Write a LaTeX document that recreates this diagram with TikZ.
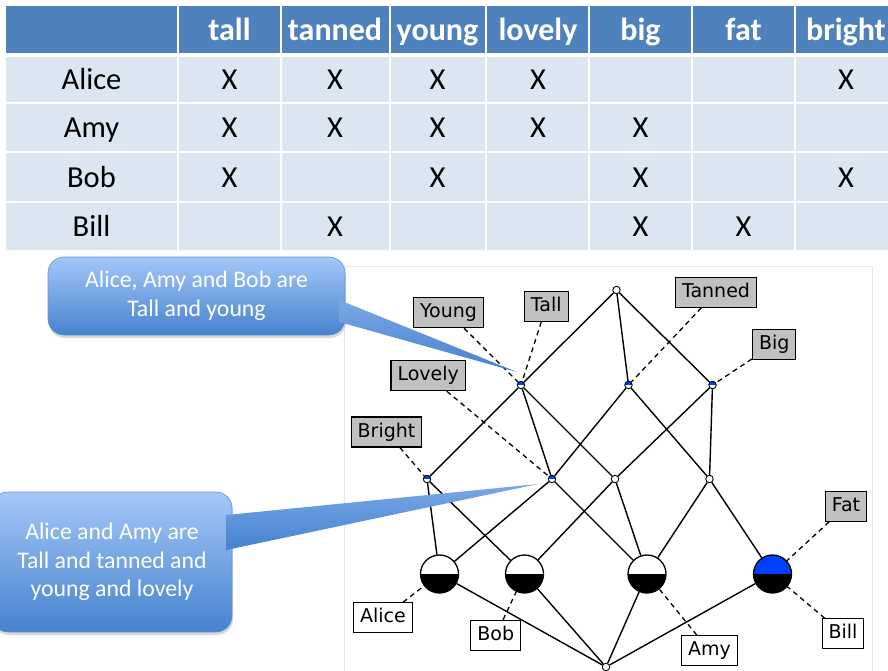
\documentclass[tikz,border=0pt]{standalone}
\usepackage{fontspec}
\setmainfont{Carlito}
\newfontfamily\lblfont{DejaVu Sans}
\usetikzlibrary{positioning, shadows}
\definecolor{headblue}{RGB}{79,129,189}
\definecolor{rowblue}{RGB}{220,230,242}
\definecolor{calltop}{RGB}{163,199,248}
\definecolor{callbot}{RGB}{70,130,206}
\definecolor{callline}{RGB}{100,148,214}
\definecolor{attrgray}{RGB}{192,192,192}
\definecolor{conceptblue}{RGB}{0,64,255}
\definecolor{panelline}{RGB}{230,230,230}
\tikzset{
  % Table styles
  headtxt/.style={anchor=base, inner sep=0pt, text=white, font=\fontsize{32}{36}\selectfont\bfseries},
  celltxt/.style={anchor=base, inner sep=0pt, font=\fontsize{30.5}{34}\selectfont},
  % Lattice styles
  attr/.style={rectangle, draw=black, line width=1.1pt, fill=attrgray, minimum height=30pt, inner xsep=6.5pt, text height=14pt, text depth=4pt, font=\lblfont\fontsize{19}{22}\selectfont},
  obj/.style={attr, fill=white},
  concept/.style={circle, draw=black, fill=white, line width=0.9pt, minimum size=7.5pt, inner sep=0pt},
  attrconcept/.style={concept, path picture={\fill[conceptblue] (path picture bounding box.west) rectangle (path picture bounding box.north east);}},
  objconcept/.style={circle, draw=black, fill=#1, line width=1.3pt, minimum size=38pt, inner sep=0pt,
    path picture={\fill[black] (path picture bounding box.west) rectangle (path picture bounding box.south east);}},
  objconcept/.default={white},
  edge/.style={line width=1.4pt},
  tagline/.style={line width=1.3pt, dash pattern=on 5pt off 4pt},
  % Callout styles
  callout/.style={rectangle, rounded corners=16pt, draw=callline, line width=0.6pt, top color=calltop, bottom color=callbot, text=white, align=center, font=\fontsize{23.8}{28.5}\selectfont, drop shadow={opacity=0.3, shadow xshift=1pt, shadow yshift=-3pt}},
  pointer/.style={top color=calltop!55!callbot, bottom color=callbot},
}
\begin{document}
\begin{tikzpicture}[x=1pt, y=-1pt]
    \useasboundingbox (0,0) rectangle (888,671);

    % Table cells
    \foreach \xa/\xb in {6/177, 179/280, 282/389, 391/485, 487/588, 590/691, 693/794, 796/900} {
      \fill[headblue] (\xa,6) rectangle (\xb,53);
      \foreach \ya/\yb in {57/102.5, 104.5/151.5, 153.5/201, 203/250}
        \fill[rowblue] (\xa,\ya) rectangle (\xb,\yb);
    }

    % Header and objects
    \node[headtxt] (h-tall) at (229.5,40.5) {tall};
    \node[headtxt] (h-tanned) at (335,40.5) {tanned};
    \node[headtxt] (h-young) at (437.5,40.5) {young};
    \node[headtxt] (h-lovely) at (538,40.5) {lovely};
    \node[headtxt] (h-big) at (640.5,40.5) {big};
    \node[headtxt] (h-fat) at (743.5,40.5) {fat};
    \node[headtxt] (h-bright) at (846,40.5) {bright};
    \node[celltxt] (r-alice) at (91.5,89.5) {Alice};
    \node[celltxt] (r-amy) at (91.5,137.8) {Amy};
    \node[celltxt] (r-bob) at (91.5,187) {Bob};
    \node[celltxt] (r-bill) at (91.5,236.3) {Bill};

    % Crosses
    \foreach \r/\h in {alice/tall, alice/tanned, alice/young, alice/lovely, alice/bright,
                       amy/tall, amy/tanned, amy/young, amy/lovely, amy/big,
                       bob/tall, bob/young, bob/big, bob/bright,
                       bill/tanned, bill/big, bill/fat}
      \node[celltxt] (x-\r-\h) at (h-\h.base |- r-\r.base) {X};

    % Lattice panel
    \draw[panelline] (344,266) rectangle (872,700);

    % Concepts
    \node[concept] (k-top) at (616.5,290) {};
    \node[attrconcept] (k-ty) at (521,385) {};
    \node[attrconcept] (k-tan) at (628.5,385) {};
    \node[attrconcept] (k-big) at (712.5,385) {};
    \node[attrconcept] (k-bri) at (427,479) {};
    \node[attrconcept] (k-lov) at (552,479) {};
    \node[concept] (k-tyb) at (615,479) {};
    \node[concept] (k-tb) at (709.5,479) {};
    \node[objconcept] (o-alice) at (439.5,574) {};
    \node[objconcept] (o-bob) at (524.5,574) {};
    \node[objconcept] (o-amy) at (647,574) {};
    \node[objconcept=conceptblue] (o-bill) at (772.5,574) {};
    \node[concept] (k-bot) at (606,667) {};

    % Lattice edges
    \draw[edge] (k-top) -- (k-ty);
    \draw[edge] (k-top) -- (k-tan);
    \draw[edge] (k-top) -- (k-big);
    \draw[edge] (k-ty) -- (k-bri);
    \draw[edge] (k-ty) -- (k-lov);
    \draw[edge] (k-ty) -- (k-tyb);
    \draw[edge] (k-tan) -- (k-lov);
    \draw[edge] (k-tan) -- (k-tb);
    \draw[edge] (k-big) -- (k-tyb);
    \draw[edge] (k-big) -- (k-tb);
    \draw[edge] (k-bri) -- (o-alice);
    \draw[edge] (k-bri) -- (o-bob);
    \draw[edge] (k-lov) -- (o-alice);
    \draw[edge] (k-lov) -- (o-amy);
    \draw[edge] (k-tyb) -- (o-bob);
    \draw[edge] (k-tyb) -- (o-amy);
    \draw[edge] (k-tb) -- (o-amy);
    \draw[edge] (k-tb) -- (o-bill);
    \draw[edge] (o-alice) -- (k-bot);
    \draw[edge] (o-bob) -- (k-bot);
    \draw[edge] (o-amy) -- (k-bot);
    \draw[edge] (o-bill) -- (k-bot);

    % Attribute and object labels
    \node[attr] (l-young) at (448.5,312.7) {Young};
    \node[attr] (l-tall) at (546.3,306.3) {Tall};
    \node[attr] (l-tanned) at (716,292.3) {Tanned};
    \node[attr] (l-big) at (774.2,344.3) {Big};
    \node[attr] (l-lovely) at (428.2,375.7) {Lovely};
    \node[attr] (l-bright) at (386.5,432) {Bright};
    \node[attr] (l-fat) at (846,506.3) {Fat};
    \node[obj] (l-alice) at (383,617.7) {Alice};
    \node[obj] (l-bob) at (495.8,635.3) {Bob};
    \node[obj] (l-amy) at (709.5,650.7) {Amy};
    \node[obj] (l-bill) at (843,633.7) {Bill};

    \draw[tagline] (l-young) -- (k-ty);
    \draw[tagline] (l-tall) -- (k-ty);
    \draw[tagline] (l-tanned) -- (k-tan);
    \draw[tagline] (l-big) -- (k-big);
    \draw[tagline] (l-lovely) -- (k-lov);
    \draw[tagline] (l-bright) -- (k-bri);
    \draw[tagline] (l-fat) -- (o-bill);
    \draw[tagline] (l-alice) -- (o-alice);
    \draw[tagline] (l-bob) -- (o-bob);
    \draw[tagline] (l-amy) -- (o-amy);
    \draw[tagline] (l-bill) -- (o-bill);

    % Callouts
    \node[callout, minimum width=297pt, minimum height=78pt] (call1) at (196.5,296) {Alice, Amy and Bob are\\Tall and young};
    \coordinate (tip1) at (517,372);
    \shade[pointer] ([xshift=-6pt, yshift=-4pt]call1.east) -- (tip1) -- ([xshift=-6pt, yshift=-26pt]call1.east) -- cycle;

    \node[callout, minimum width=240pt, minimum height=140pt] (call2) at (112,562) {Alice and Amy are\\Tall and tanned and\\young and lovely};
    \coordinate (tip2) at (538,484);
    \shade[pointer] ([xshift=-6pt, yshift=47pt]call2.east) -- (tip2) -- ([xshift=-6pt, yshift=12pt]call2.east) -- cycle;
\end{tikzpicture}
\end{document}
